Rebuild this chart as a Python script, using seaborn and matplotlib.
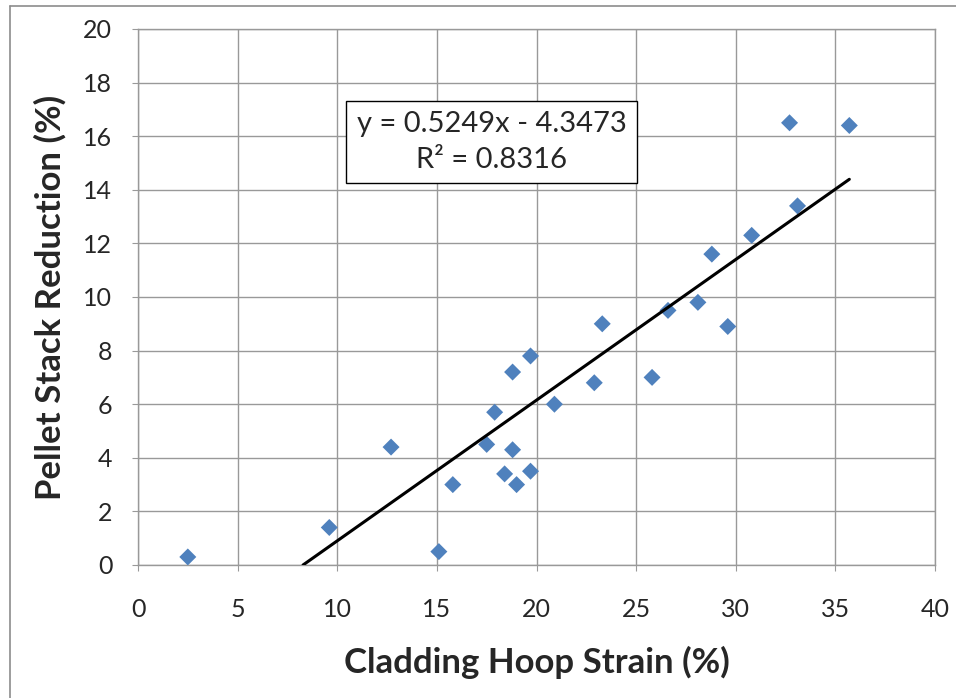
import numpy as np
import pandas as pd
import matplotlib
matplotlib.use('Agg')
import matplotlib.pyplot as plt
import seaborn as sns
from matplotlib.lines import Line2D

# Data
hoop_strain = [2.5, 9.6, 12.7, 15.1, 15.8, 17.5, 17.9, 18.4, 18.8, 18.8, 19.0, 19.7, 19.7,
               20.9, 22.9, 23.3, 25.8, 26.6, 28.1, 28.8, 29.6, 30.8, 32.7, 33.1, 35.7]
stack_reduction = [0.3, 1.4, 4.4, 0.5, 3.0, 4.5, 5.7, 3.4, 7.2, 4.3, 3.0, 7.8, 3.5,
                   6.0, 6.8, 9.0, 7.0, 9.5, 9.8, 11.6, 8.9, 12.3, 16.5, 13.4, 16.4]

# Excel trendline as printed on the chart
slope = 0.5249
intercept = -4.3473
r_squared = 0.8316

df = pd.DataFrame({'strain': hoop_strain, 'reduction': stack_reduction})

sns.set_style('white')
plt.rcParams['font.family'] = ['Lato', 'DejaVu Sans']

fig = plt.figure(figsize=(9.56, 6.98), dpi=100)
ax = fig.add_axes([138 / 956, 1 - 565 / 698, (935 - 138) / 956, (565 - 29) / 698])

sns.scatterplot(data=df, x='strain', y='reduction', ax=ax, marker='D', s=75,
                color='#4F81BD', edgecolor='none', zorder=3)

# trendline, clipped at y = 0 like Excel does
x_start = -intercept / slope
x_end = max(hoop_strain)
line_x = np.array([x_start, x_end])
ax.plot(line_x, slope * line_x + intercept, color='black', lw=2.2, zorder=4)

ax.set_xlim(0, 40)
ax.set_ylim(0, 20)
ax.set_xticks(range(0, 41, 5))
ax.set_yticks(range(0, 21, 2))
ax.grid(True, color='#999999', lw=1)
ax.set_axisbelow(True)
for sp in ax.spines.values():
    sp.set_color('#999999')
    sp.set_linewidth(1)
ax.tick_params(axis='both', labelsize=18, length=4, color='#999999',
               bottom=True, left=True)
ax.tick_params(axis='x', pad=19.5)
ax.tick_params(axis='y', pad=14.5)

ax.set_xlabel('Cladding Hoop Strain (%)', fontsize=25, fontweight='bold', labelpad=18)
ax.set_ylabel('Pellet Stack Reduction (%)', fontsize=25, fontweight='bold', labelpad=12)

eq_text = f'y = {slope}x - {abs(intercept)}\nR² = {r_squared}'
ax.text(17.74, 15.78, eq_text, ha='center', va='center', fontsize=21,
        linespacing=1.45, zorder=5,
        bbox=dict(boxstyle='square,pad=0.35', fc='white', ec='black', lw=1))

# outer chart frame (top and left edges visible)
fig.add_artist(Line2D([9.5 / 956, 1], [1 - 6 / 698, 1 - 6 / 698], color='#8c8c8c', lw=1.2))
fig.add_artist(Line2D([9.5 / 956, 9.5 / 956], [0, 1 - 6 / 698], color='#8c8c8c', lw=1.2))

fig.savefig('out.png', dpi=100)
